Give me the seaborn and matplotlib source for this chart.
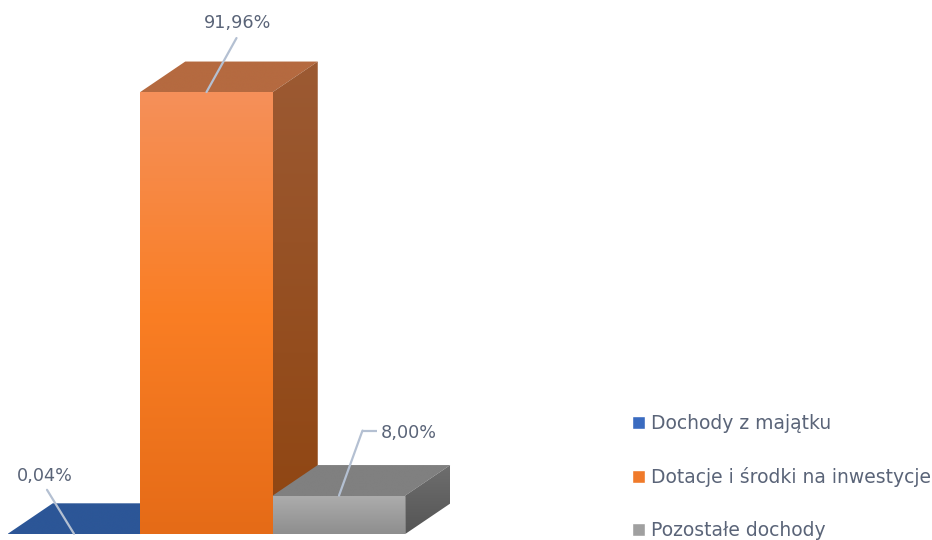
import numpy as np
import pandas as pd
import matplotlib
matplotlib.use('Agg')
import matplotlib.pyplot as plt
from matplotlib.colors import LinearSegmentedColormap
from matplotlib.patches import Polygon
import seaborn as sns

# datos
categories = ['Dochody z majątku', 'Dotacje i środki na inwestycje', 'Pozostałe dochody']
values = [0.04, 91.96, 8.00]
labels = ['0,04%', '91,96%', '8,00%']
legend_colors = ['#3A6BC0', '#F07A2A', '#A0A0A0']

df = pd.DataFrame({'categoria': categories, 'valor': values})

sns.set_theme(style='white')
fig = plt.figure(figsize=(9.32, 5.4), dpi=100)
ax = fig.add_axes([0, 0, 1, 1])

sns.barplot(data=df, x='categoria', y='valor', hue='categoria', palette=legend_colors,
            width=1.0, dodge=False, saturation=1, legend=True, ax=ax)

# escala: 132.5 px por categoria, 4.806 px por punto porcentual
xlim = (-74 / 132.5, (932 - 74) / 132.5)
ylim = (-6 / 4.806, 534 / 4.806)
dx, dy = 45 / 132.5, 30.5 / 4.806


def grad(verts, cols, z):
    # cara con degradado vertical recortada al poligono
    poly = Polygon(verts, closed=True, fc='none', ec='none', transform=ax.transData)
    ax.add_patch(poly)
    ys = [v[1] for v in verts]
    xs = [v[0] for v in verts]
    cmap = LinearSegmentedColormap.from_list('c', cols)
    im = ax.imshow(np.linspace(0, 1, 256).reshape(-1, 1), cmap=cmap, aspect='auto',
                   extent=(min(xs), max(xs), min(ys), max(ys)), zorder=z, origin='upper')
    im.set_clip_path(poly)


front_cols = [['#2C5697', '#2C5697'], ['#F5905A', '#FA7E24', '#E56B17'], ['#ADADAD', '#8E8E8E']]
top_cols = [['#2C5697', '#2C5697'], ['#B56A40', '#B56A40'], ['#808080', '#808080']]
side_cols = [['#2C5697', '#2C5697'], ['#9C5A33', '#8F4511'], ['#6E6E6E', '#555555']]
order_z = [3, 5, 7]

bars = [b for c in ax.containers for b in c]
for i, b in enumerate(bars):
    x0, x1, h = b.get_x(), b.get_x() + b.get_width(), b.get_height()
    z = order_z[i]
    # la cara superior baja un poco por detras del frente para no dejar hueco
    low = max(h - 0.4, 0)
    grad([(x0, low), (x0, h), (x0 + dx, h + dy), (x1 + dx, h + dy), (x1, h), (x1, low)], top_cols[i], z)
    grad([(x1, 0), (x1 + dx, dy), (x1 + dx, h + dy), (x1, h)], side_cols[i], z)
    grad([(x0, 0), (x1, 0), (x1, h), (x0, h)], front_cols[i], z + 1)
    b.set_zorder(1)

ax.set_xlim(xlim)
ax.set_ylim(ylim)
ax.axis('off')

# etiquetas con linea guia
txt = '#5A6478'
line = dict(arrowstyle='-', color='#B4C0D2', lw=1.6, shrinkA=0, shrinkB=0)
px = 0.72
offs = [(-27, 44), (30, 54), (23.5, 65)]
for i, b in enumerate(bars):
    xc = b.get_x() + b.get_width() / 2
    ax.annotate('', xy=(xc, values[i]), xytext=(offs[i][0] * px, offs[i][1] * px),
                textcoords='offset points', arrowprops=line, zorder=12)

# codo de la etiqueta gris
ax.plot([2 + 23.5 / 132.5, 2 + 37.5 / 132.5], [values[2] + 65 / 4.806] * 2,
        color='#B4C0D2', lw=1.6, zorder=12, solid_capstyle='butt')

fs = 12.7
ax.annotate(labels[0], xy=(0, values[0]), xytext=(-29 * px, 58 * px), textcoords='offset points',
            ha='center', va='center', fontsize=fs, color=txt, zorder=13)
ax.annotate(labels[1], xy=(1, values[1]), xytext=(31 * px, 69 * px), textcoords='offset points',
            ha='center', va='center', fontsize=fs, color=txt, zorder=13)
ax.annotate(labels[2], xy=(2, values[2]), xytext=(41.5 * px, 63 * px), textcoords='offset points',
            ha='left', va='center', fontsize=fs, color=txt, zorder=13)

sns.move_legend(ax, 'lower left', bbox_to_anchor=(0.678, 0.0005), title=None, frameon=False,
                fontsize=13.5, labelcolor=txt, labelspacing=1.81, handlelength=0.7,
                handleheight=0.7, handletextpad=0.32, borderpad=0, borderaxespad=0)

fig.savefig('out.png', dpi=100)
